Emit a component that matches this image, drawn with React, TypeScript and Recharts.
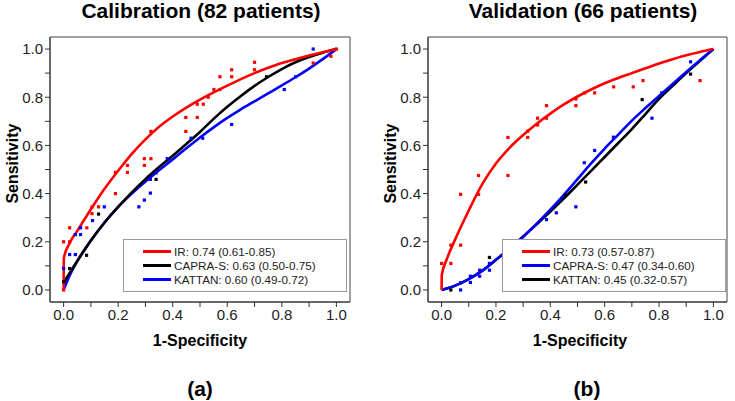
import React from 'react'
import { ComposedChart, Line, Scatter, XAxis, YAxis, ReferenceArea } from 'recharts'

// fitted ROC curves, calibration cohort
const calIrCurve = [
  { x: 0, y: 0 }, { x: 0.0005, y: 0.13 }, { x: 0.02, y: 0.19 }, { x: 0.05, y: 0.245 },
  { x: 0.1, y: 0.335 }, { x: 0.15, y: 0.42 }, { x: 0.2, y: 0.495 }, { x: 0.25, y: 0.565 },
  { x: 0.3, y: 0.625 }, { x: 0.35, y: 0.677 }, { x: 0.4, y: 0.72 }, { x: 0.45, y: 0.757 },
  { x: 0.5, y: 0.79 }, { x: 0.55, y: 0.82 }, { x: 0.6, y: 0.848 }, { x: 0.65, y: 0.875 },
  { x: 0.7, y: 0.9 }, { x: 0.75, y: 0.922 }, { x: 0.8, y: 0.942 }, { x: 0.85, y: 0.958 },
  { x: 0.9, y: 0.973 }, { x: 0.95, y: 0.987 }, { x: 1, y: 1 },
]
const calCapraCurve = [
  { x: 0, y: 0.03 }, { x: 0.05, y: 0.12 }, { x: 0.1, y: 0.205 }, { x: 0.15, y: 0.28 },
  { x: 0.2, y: 0.345 }, { x: 0.25, y: 0.405 }, { x: 0.3, y: 0.46 }, { x: 0.35, y: 0.51 },
  { x: 0.4, y: 0.557 }, { x: 0.45, y: 0.606 }, { x: 0.5, y: 0.656 }, { x: 0.55, y: 0.71 },
  { x: 0.6, y: 0.76 }, { x: 0.65, y: 0.805 }, { x: 0.7, y: 0.847 }, { x: 0.75, y: 0.884 },
  { x: 0.8, y: 0.917 }, { x: 0.85, y: 0.945 }, { x: 0.9, y: 0.967 }, { x: 0.95, y: 0.985 },
  { x: 1, y: 1 },
]
const calKattanCurve = [
  { x: 0, y: 0 }, { x: 0.02, y: 0.055 }, { x: 0.05, y: 0.12 }, { x: 0.1, y: 0.205 },
  { x: 0.15, y: 0.28 }, { x: 0.2, y: 0.345 }, { x: 0.25, y: 0.4 }, { x: 0.3, y: 0.45 },
  { x: 0.35, y: 0.497 }, { x: 0.4, y: 0.542 }, { x: 0.45, y: 0.588 }, { x: 0.5, y: 0.633 },
  { x: 0.55, y: 0.675 }, { x: 0.6, y: 0.714 }, { x: 0.65, y: 0.75 }, { x: 0.7, y: 0.783 },
  { x: 0.75, y: 0.816 }, { x: 0.8, y: 0.849 }, { x: 0.85, y: 0.883 }, { x: 0.9, y: 0.919 },
  { x: 0.95, y: 0.958 }, { x: 1, y: 1 },
]

// empirical ROC points, calibration cohort
const calIrPoints = [
  { x: 0, y: 0 }, { x: 0, y: 0.2 }, { x: 0.022, y: 0.2 }, { x: 0.022, y: 0.258 },
  { x: 0.085, y: 0.258 }, { x: 0.104, y: 0.317 }, { x: 0.104, y: 0.345 }, { x: 0.128, y: 0.345 },
  { x: 0.19, y: 0.4 }, { x: 0.19, y: 0.488 }, { x: 0.234, y: 0.488 }, { x: 0.234, y: 0.517 },
  { x: 0.296, y: 0.517 }, { x: 0.296, y: 0.545 }, { x: 0.32, y: 0.545 }, { x: 0.32, y: 0.658 },
  { x: 0.448, y: 0.658 }, { x: 0.448, y: 0.716 }, { x: 0.49, y: 0.716 }, { x: 0.49, y: 0.771 },
  { x: 0.512, y: 0.771 }, { x: 0.53, y: 0.8 }, { x: 0.551, y: 0.832 }, { x: 0.573, y: 0.832 },
  { x: 0.573, y: 0.885 }, { x: 0.616, y: 0.885 }, { x: 0.616, y: 0.914 }, { x: 0.7, y: 0.914 },
  { x: 0.7, y: 0.945 }, { x: 0.915, y: 0.942 }, { x: 0.98, y: 0.97 }, { x: 1, y: 1 },
]
const calCapraPoints = [
  { x: 0, y: 0.034 }, { x: 0.022, y: 0.089 }, { x: 0.084, y: 0.144 }, { x: 0.128, y: 0.315 },
  { x: 0.339, y: 0.459 }, { x: 0.744, y: 0.885 },
]
const calKattanPoints = [
  { x: 0, y: 0.089 }, { x: 0.022, y: 0.147 }, { x: 0.043, y: 0.147 }, { x: 0.043, y: 0.23 },
  { x: 0.062, y: 0.23 }, { x: 0.062, y: 0.258 }, { x: 0.106, y: 0.288 }, { x: 0.149, y: 0.345 },
  { x: 0.276, y: 0.345 }, { x: 0.296, y: 0.373 }, { x: 0.318, y: 0.402 }, { x: 0.318, y: 0.459 },
  { x: 0.339, y: 0.486 }, { x: 0.38, y: 0.545 }, { x: 0.467, y: 0.63 }, { x: 0.51, y: 0.63 },
  { x: 0.616, y: 0.687 }, { x: 0.809, y: 0.832 }, { x: 0.851, y: 0.885 }, { x: 0.915, y: 1 },
]

// fitted ROC curves, validation cohort
const valIrCurve = [
  { x: 0, y: 0 }, { x: 0.0005, y: 0.06 }, { x: 0.02, y: 0.13 }, { x: 0.05, y: 0.21 },
  { x: 0.1, y: 0.33 }, { x: 0.15, y: 0.44 }, { x: 0.2, y: 0.525 }, { x: 0.25, y: 0.59 },
  { x: 0.3, y: 0.643 }, { x: 0.35, y: 0.69 }, { x: 0.4, y: 0.732 }, { x: 0.45, y: 0.77 },
  { x: 0.5, y: 0.803 }, { x: 0.55, y: 0.832 }, { x: 0.6, y: 0.858 }, { x: 0.65, y: 0.88 },
  { x: 0.7, y: 0.9 }, { x: 0.75, y: 0.92 }, { x: 0.8, y: 0.94 }, { x: 0.85, y: 0.958 },
  { x: 0.9, y: 0.974 }, { x: 0.95, y: 0.988 }, { x: 1, y: 1 },
]
const valCapraCurve = [
  { x: 0, y: 0 }, { x: 0.05, y: 0.018 }, { x: 0.1, y: 0.045 }, { x: 0.15, y: 0.08 },
  { x: 0.2, y: 0.125 }, { x: 0.25, y: 0.17 }, { x: 0.3, y: 0.22 }, { x: 0.35, y: 0.275 },
  { x: 0.4, y: 0.333 }, { x: 0.45, y: 0.395 }, { x: 0.5, y: 0.46 }, { x: 0.55, y: 0.525 },
  { x: 0.6, y: 0.587 }, { x: 0.65, y: 0.645 }, { x: 0.7, y: 0.703 }, { x: 0.75, y: 0.755 },
  { x: 0.8, y: 0.805 }, { x: 0.85, y: 0.855 }, { x: 0.9, y: 0.905 }, { x: 0.95, y: 0.953 },
  { x: 1, y: 1 },
]
const valKattanCurve = [
  { x: 0, y: 0 }, { x: 0.05, y: 0.018 }, { x: 0.1, y: 0.045 }, { x: 0.15, y: 0.08 },
  { x: 0.2, y: 0.125 }, { x: 0.25, y: 0.172 }, { x: 0.3, y: 0.222 }, { x: 0.35, y: 0.273 },
  { x: 0.4, y: 0.325 }, { x: 0.45, y: 0.38 }, { x: 0.5, y: 0.437 }, { x: 0.55, y: 0.494 },
  { x: 0.6, y: 0.552 }, { x: 0.65, y: 0.61 }, { x: 0.7, y: 0.668 }, { x: 0.75, y: 0.73 },
  { x: 0.8, y: 0.793 }, { x: 0.85, y: 0.847 }, { x: 0.9, y: 0.9 }, { x: 0.95, y: 0.95 },
  { x: 1, y: 1 },
]

// empirical ROC points, validation cohort
const valIrPoints = [
  { x: 0, y: 0.11 }, { x: 0.034, y: 0.11 }, { x: 0.034, y: 0.186 }, { x: 0.07, y: 0.186 },
  { x: 0.07, y: 0.397 }, { x: 0.136, y: 0.397 }, { x: 0.136, y: 0.475 }, { x: 0.244, y: 0.475 },
  { x: 0.244, y: 0.633 }, { x: 0.317, y: 0.633 }, { x: 0.317, y: 0.659 }, { x: 0.353, y: 0.685 },
  { x: 0.353, y: 0.713 }, { x: 0.386, y: 0.713 }, { x: 0.386, y: 0.765 }, { x: 0.494, y: 0.765 },
  { x: 0.494, y: 0.793 }, { x: 0.527, y: 0.818 }, { x: 0.563, y: 0.818 }, { x: 0.633, y: 0.843 },
  { x: 0.705, y: 0.843 }, { x: 0.741, y: 0.869 }, { x: 0.951, y: 0.869 },
]
const valCapraPoints = [
  { x: 0.07, y: 0 }, { x: 0.07, y: 0.03 }, { x: 0.106, y: 0.031 }, { x: 0.106, y: 0.057 },
  { x: 0.14, y: 0.057 }, { x: 0.14, y: 0.082 }, { x: 0.176, y: 0.082 }, { x: 0.176, y: 0.11 },
  { x: 0.386, y: 0.292 }, { x: 0.422, y: 0.32 }, { x: 0.494, y: 0.345 }, { x: 0.525, y: 0.528 },
  { x: 0.563, y: 0.579 }, { x: 0.632, y: 0.634 }, { x: 0.774, y: 0.713 }, { x: 0.81, y: 0.818 },
  { x: 0.916, y: 0.947 },
]
const valKattanPoints = [
  { x: 0.034, y: 0 }, { x: 0.176, y: 0.135 }, { x: 0.455, y: 0.393 }, { x: 0.53, y: 0.448 },
  { x: 0.738, y: 0.79 }, { x: 0.916, y: 0.896 },
]

const calLegend = [
  { label: 'IR: 0.74 (0.61-0.85)', color: '#ff0000' },
  { label: 'CAPRA-S: 0.63 (0.50-0.75)', color: '#000000' },
  { label: 'KATTAN: 0.60 (0.49-0.72)', color: '#0000ff' },
]
const valLegend = [
  { label: 'IR: 0.73 (0.57-0.87)', color: '#ff0000' },
  { label: 'CAPRA-S: 0.47 (0.34-0.60)', color: '#0000ff' },
  { label: 'KATTAN: 0.45 (0.32-0.57)', color: '#000000' },
]

const ticks = [0, 0.1, 0.2, 0.3, 0.4, 0.5, 0.6, 0.7, 0.8, 0.9, 1.0]
const FONT = '"Liberation Sans", Arial, sans-serif'

const fmt = (v: number) => (Math.round(v * 10) % 2 === 0 ? v.toFixed(1) : '')

const square = (color: string) => (props: any) => (
  <rect x={props.cx - 1.6} y={props.cy - 1.6} width={3.2} height={3.2} fill={color} />
)

interface Series {
  curve: { x: number; y: number }[]
  points: { x: number; y: number }[]
  color: string
}

function RocPanel({ left, width, marginRight, series }: { left: number; width: number; marginRight: number; series: Series[] }) {
  return (
    <div style={{ position: 'absolute', left, top: 0 }}>
      <ComposedChart
        width={width}
        height={401}
        margin={{ top: 37, right: marginRight, bottom: 69, left: 20 }}
      >
        <XAxis
          type="number"
          dataKey="x"
          domain={[-0.05, 1.05]}
          ticks={ticks}
          tickFormatter={fmt}
          interval={0}
          allowDataOverflow
          height={30}
          tickSize={5}
          stroke="#333"
          tick={{ fill: '#222', fontSize: 15, fontFamily: FONT }}
        />
        <YAxis
          type="number"
          dataKey="y"
          domain={[-0.05, 1.05]}
          ticks={ticks}
          tickFormatter={fmt}
          interval={0}
          allowDataOverflow
          width={30}
          tickSize={5}
          stroke="#333"
          tick={{ fill: '#222', fontSize: 15, fontFamily: FONT }}
        />
        <ReferenceArea x1={-0.05} x2={1.05} y1={-0.05} y2={1.05} fill="none" stroke="#444" strokeWidth={1} />
        {series.map((s, i) => (
          <Scatter key={'p' + i} data={s.points} fill={s.color} shape={square(s.color)} isAnimationActive={false} />
        ))}
        {series.map((s, i) => (
          <Line
            key={'c' + i}
            data={s.curve}
            dataKey="y"
            type="monotone"
            stroke={s.color}
            strokeWidth={2.6}
            dot={false}
            activeDot={false}
            isAnimationActive={false}
          />
        ))}
      </ComposedChart>
    </div>
  )
}

function LegendBox({ left, items }: { left: number; items: { label: string; color: string }[] }) {
  return (
    <div
      style={{
        position: 'absolute',
        left,
        top: 239,
        width: 222,
        height: 51,
        border: '1px solid #999',
        background: '#fff',
        fontFamily: FONT,
        fontSize: 11.7,
        color: '#222',
      }}
    >
      {items.map((it, i) => (
        <div key={it.label} style={{ position: 'absolute', left: 19, top: 4 + i * 14.3, height: 14, display: 'flex', alignItems: 'center' }}>
          <div style={{ width: 28, height: 3, background: it.color, marginRight: 3 }} />
          <span>{it.label}</span>
        </div>
      ))}
    </div>
  )
}

const Text = ({ cx, cy, size, children, rotate }: { cx: number; cy: number; size: number; children: React.ReactNode; rotate?: boolean }) => (
  <div
    style={{
      position: 'absolute',
      left: cx - 150,
      top: cy - size * 0.6,
      width: 300,
      lineHeight: `${size * 1.2}px`,
      textAlign: 'center',
      fontFamily: FONT,
      fontWeight: 'bold',
      fontSize: size,
      color: '#000',
      transform: rotate ? 'rotate(-90deg)' : undefined,
      whiteSpace: 'nowrap',
    }}
  >
    {children}
  </div>
)

export default function App() {
  return (
    <div style={{ position: 'absolute', left: 0, top: 0, width: 735, height: 401, background: '#fff', overflow: 'hidden' }}>
      <RocPanel
        left={0}
        width={367}
        marginRight={17}
        series={[
          { curve: calKattanCurve, points: calKattanPoints, color: '#0000ff' },
          { curve: calCapraCurve, points: calCapraPoints, color: '#000000' },
          { curve: calIrCurve, points: calIrPoints, color: '#ff0000' },
        ]}
      />
      <RocPanel
        left={378}
        width={357}
        marginRight={8}
        series={[
          { curve: valKattanCurve, points: valKattanPoints, color: '#000000' },
          { curve: valCapraCurve, points: valCapraPoints, color: '#0000ff' },
          { curve: valIrCurve, points: valIrPoints, color: '#ff0000' },
        ]}
      />
      <LegendBox left={123} items={calLegend} />
      <LegendBox left={502} items={valLegend} />
      <Text cx={201} cy={11} size={21}>Calibration (82 patients)</Text>
      <Text cx={583} cy={11} size={21}>Validation (66 patients)</Text>
      <Text cx={200} cy={341} size={16}>1-Specificity</Text>
      <Text cx={580} cy={341} size={16}>1-Specificity</Text>
      <Text cx={13} cy={164} size={16} rotate>Sensitivity</Text>
      <Text cx={391} cy={164} size={16} rotate>Sensitivity</Text>
      <Text cx={200} cy={389} size={21}>(a)</Text>
      <Text cx={587} cy={389} size={21}>(b)</Text>
    </div>
  )
}
